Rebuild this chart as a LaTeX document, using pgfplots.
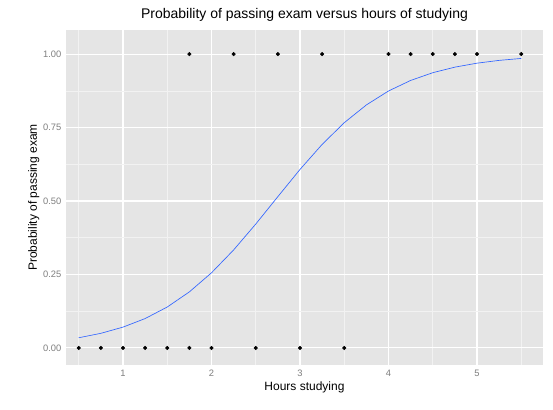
\documentclass[border=0pt]{standalone}
\usepackage{pgfplots}
\pgfplotsset{compat=1.18}
\usepackage{fontspec}
\setmainfont{Liberation Sans}
\definecolor{panel}{HTML}{E5E5E5}
\definecolor{minorg}{HTML}{F2F2F2}
\definecolor{tickc}{HTML}{7F7F7F}
\definecolor{curve}{HTML}{3366FF}
\begin{document}
\begin{tikzpicture}[x=1pt,y=1pt]
\path[use as bounding box,fill=white] (-49.5,-33.75) rectangle (365.25,273.75);
\begin{axis}[at={(0,0)},anchor=south west,scale only axis,width=357.75pt,height=251.25pt,
 xmin=0.356,xmax=5.746,ymin=-0.058,ymax=1.082,
 axis background/.style={fill=panel},axis line style={draw=none},
 xtick={1,2,3,4,5},ytick={0,0.25,0.5,0.75,1},
 yticklabels={0.00,0.25,0.50,0.75,1.00},
 minor xtick={0.5,1.5,2.5,3.5,4.5,5.5},minor ytick={0.125,0.375,0.625,0.875},
 grid=both,major grid style={white,line width=0.8pt},minor grid style={minorg,line width=0.4pt},
 major tick length=0pt,minor tick length=0pt,
 ticklabel style={font=\fontsize{7}{8}\selectfont,text=tickc},
 /pgf/number format/assume math mode=true,
 xlabel={Hours studying},ylabel={Probability of passing exam},
 label style={font=\fontsize{9}{10}\selectfont},
 title={Probability of passing exam versus hours of studying},
 title style={font=\fontsize{10.5}{12}\selectfont,yshift=-3pt},
 xlabel style={yshift=3pt},ylabel style={yshift=-4pt}]
\addplot[curve,line width=0.5pt] coordinates {(0.5,0.0347)(0.75,0.0498)(1.0,0.0709)(1.25,0.100)(1.5,0.1393)(1.75,0.1908)(2.0,0.2557)(2.25,0.3335)(2.5,0.4216)(2.75,0.5150)(3.0,0.6074)(3.25,0.6926)(3.5,0.7665)(3.75,0.8270)(4.0,0.8744)(4.25,0.9103)(4.5,0.9366)(4.75,0.9556)(5.0,0.9691)(5.25,0.9786)(5.5,0.9852)};
\addplot[only marks,mark=*,mark size=1.3pt,black] coordinates {(0.5,0)(0.75,0)(1,0)(1.25,0)(1.5,0)(1.75,0)(1.75,1)(2,0)(2.25,1)(2.5,0)(2.75,1)(3,0)(3.25,1)(3.5,0)(4,1)(4.25,1)(4.5,1)(4.75,1)(5,1)(5.5,1)};
\end{axis}
\end{tikzpicture}
\end{document}
